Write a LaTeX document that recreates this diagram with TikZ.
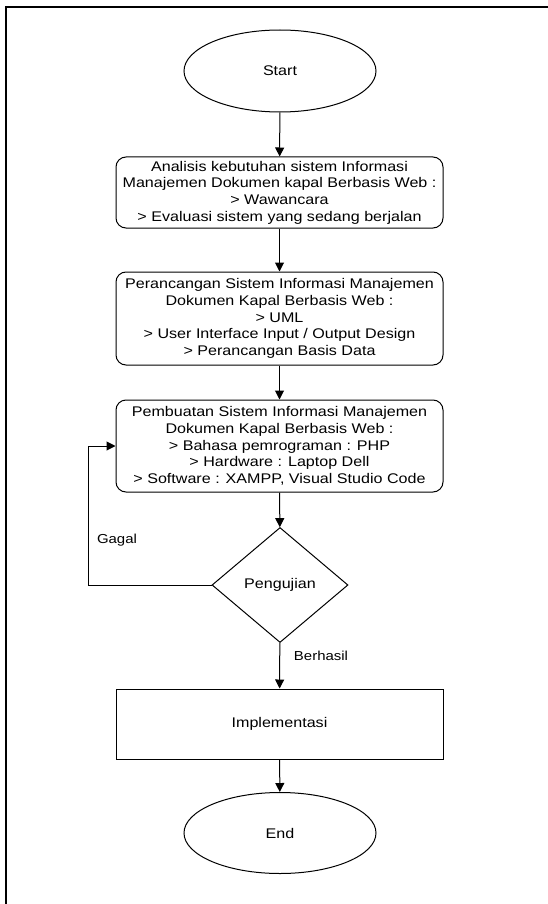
\documentclass[tikz,border=0pt]{standalone}
\usepackage{fontspec}
\setmainfont{Liberation Sans}[FakeStretch=1.15]
\usetikzlibrary{shapes.geometric,arrows.meta}

\begin{document}
\begin{tikzpicture}[x=1pt,y=-1pt,
  line width=1pt,
  >={Triangle[length=9pt,width=9pt]},
  txt/.style={font=\fontsize{14}{16.7}\selectfont, align=center},
  terminal/.style={draw, ellipse, txt, minimum width=192pt, minimum height=82pt, inner sep=0pt},
  process/.style={draw, rectangle, rounded corners=10pt, txt, minimum width=327pt, inner sep=0pt},
  plainbox/.style={draw, rectangle, txt, minimum width=327pt, minimum height=70pt, inner sep=0pt},
  decision/.style={draw, diamond, aspect=1.18, txt, minimum width=136pt, minimum height=115pt, inner sep=0pt},
  lbl/.style={font=\fontsize{13}{15}\selectfont, inner sep=0pt}]

\useasboundingbox (0,0) rectangle (548,904);

% frame
\draw[line width=2pt] (6,904) -- (6,7) -- (548,7);

\node[terminal] (start) at (280,71) {Start};
\node[process, minimum height=71pt] (analisis) at (279.5,192.5)
  {Analisis kebutuhan sistem Informasi\\Manajemen Dokumen kapal Berbasis Web :\\> Wawancara\\> Evaluasi sistem yang sedang berjalan};
\node[process, minimum height=93pt] (rancang) at (279.5,318.5)
  {Perancangan Sistem Informasi Manajemen\\Dokumen Kapal Berbasis Web :\\> UML\\> User Interface Input / Output Design\\> Perancangan Basis Data};
\node[process, minimum height=92pt] (buat) at (279.5,446)
  {Pembuatan Sistem Informasi Manajemen\\Dokumen Kapal Berbasis Web :\\> Bahasa pemrograman : PHP\\> Hardware : Laptop Dell\\> Software : XAMPP, Visual Studio Code};
\node[decision] (uji) at (280,585) {Pengujian};
\node[plainbox] (impl) at (279.5,724) {Implementasi};
\node[terminal, minimum height=81pt] (end) at (280,833) {End};

\coordinate (gagalturn) at (88,585);

\draw[->] (start) -- (analisis);
\draw[->] (analisis) -- (rancang);
\draw[->] (rancang) -- (buat);
\draw[->] (buat) -- (uji);
\draw[->] (uji) -- (impl);
\draw[->] (impl) -- (end);
\draw[->] (uji.west) -- (gagalturn) |- (buat.west);

\node[lbl] (gagal) at (117,540) {Gagal};
\node[lbl] (berhasil) at (321,656) {Berhasil};

\end{tikzpicture}
\end{document}
